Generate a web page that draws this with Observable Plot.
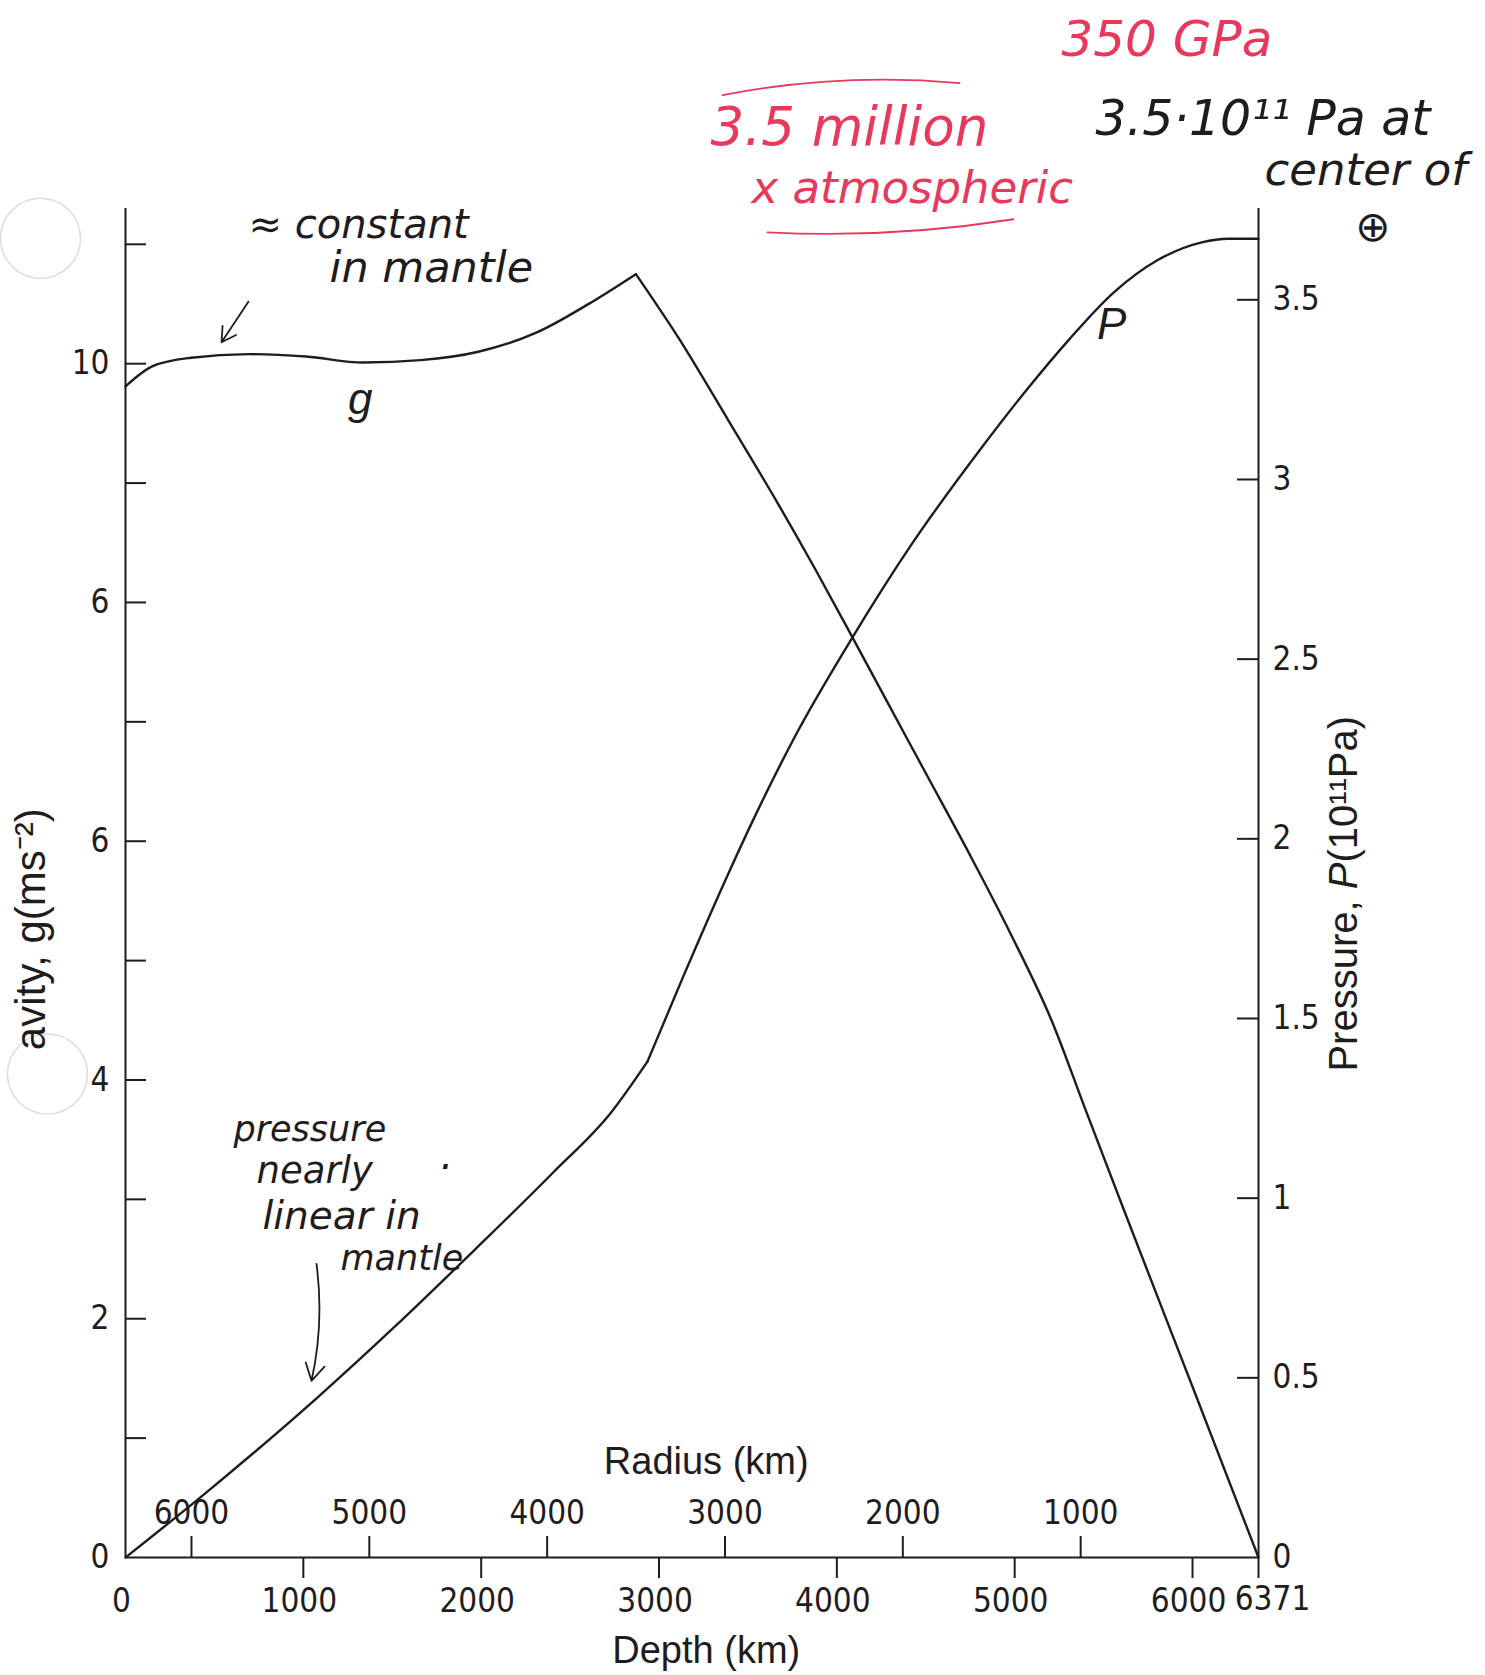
<!DOCTYPE html>
<html>
<head>
<meta charset="utf-8">
<script src="https://cdn.jsdelivr.net/npm/d3@7"></script>
<script src="https://cdn.jsdelivr.net/npm/@observablehq/plot@0.6"></script>
<style>
  html, body { margin: 0; padding: 0; background: #ffffff; }
  #chart { width: 1485px; height: 1675px; overflow: hidden; }
</style>
</head>
<body>
<div id="chart"></div>
<script>
// ---------------- data ----------------
// Gravity g (m s^-2) against depth (km): mantle branch and core branch
const gDepthMantle = [0, 153, 369, 693, 1016, 1338, 1660, 1984, 2310, 2637, 2870];
const gMantle      = [9.81, 9.98, 10.05, 10.08, 10.06, 10.01, 10.03, 10.10, 10.26, 10.53, 10.75];
const gDepthCore   = [2870, 3108, 3388, 3668, 3878, 4087, 4275, 4511, 4743, 4972, 5207, 5396, 5617, 6000, 6371];
const gCore        = [10.75, 10.22, 9.53, 8.83, 8.28, 7.71, 7.19, 6.54, 5.90, 5.24, 4.50, 3.76, 2.90, 1.43, 0];

// Pressure P (10^11 Pa) against depth (km)
const pDepthMantle = [0, 440, 1079, 1520, 1961, 2402, 2733, 2935];
const pMantle      = [0, 0.175, 0.445, 0.645, 0.855, 1.07, 1.24, 1.38];
const pDepthCore   = [2935, 3139, 3396, 3527, 3781, 4087, 4421, 4801, 5052, 5307, 5556, 5802, 6052, 6200, 6371];
const pCore        = [1.38, 1.62, 1.91, 2.05, 2.30, 2.56, 2.82, 3.08, 3.24, 3.39, 3.52, 3.61, 3.66, 3.67, 3.67];

// Axes
const earthRadius   = 6371;
const gAxisTop      = 11.3;
const gTicks        = [1, 2, 3, 4, 5, 6, 7, 8, 9, 10, 11];
const gLabelValues  = [0, 2, 4, 6, 8, 10];
const gTickLabels   = ["0", "2", "4", "6", "6", "10"];
const pTicks        = [0.5, 1, 1.5, 2, 2.5, 3, 3.5];
const pLabelValues  = [0, 0.5, 1, 1.5, 2, 2.5, 3, 3.5];
const pTickLabels   = ["0", "0.5", "1", "1.5", "2", "2.5", "3", "3.5"];
const depthTicks    = [1000, 2000, 3000, 4000, 5000, 6000, 6371];
const depthLabels   = [0, 1000, 2000, 3000, 4000, 5000, 6000];
const depthEndLabel = [6371];
const radiusTicks   = [6000, 5000, 4000, 3000, 2000, 1000];
const pPerG         = 3.01; // one unit of pressure (10^11 Pa) spans 3.01 units of the g axis

// Curve labels: text, depth km, value on its own axis, which axis
const curveLabels = [
  {text: "g", depth: 1320, value: 9.70, axis: "g"},
  {text: "P", depth: 5545, value: 3.43, axis: "p"}
];

// Hand-written notes: text, depth-axis position of left edge, g-axis position, colour group, size
const notes = [
  {text: "350 GPa",          x: 5263, y: 12.71, red: true,  size: 50},
  {text: "3.5 million",      x: 3290, y: 11.97, red: true,  size: 53},
  {text: "x atmospheric",    x: 3520, y: 11.47, red: true,  size: 45},
  {text: "3.5·10¹¹ Pa at",   x: 5454, y: 12.05, red: false, size: 49},
  {text: "center of",        x: 6405, y: 11.62, red: false, size: 45},
  {text: "⊕",                x: 6915, y: 11.14, red: false, size: 42},
  {text: "≈ constant",       x: 692,  y: 11.16, red: false, size: 40},
  {text: "in mantle",        x: 1147, y: 10.80, red: false, size: 43},
  {text: "pressure",         x: 607,  y: 3.58,  red: false, size: 35},
  {text: "nearly",           x: 737,  y: 3.24,  red: false, size: 37},
  {text: ".",                x: 1771, y: 3.36,  red: false, size: 40},
  {text: "linear in",        x: 770,  y: 2.86,  red: false, size: 39},
  {text: "mantle",           x: 1209, y: 2.50,  red: false, size: 35}
];
const arrowConstant = [{x1: 692,  y1: 10.52, x2: 540,  y2: 10.18}];
const arrowPressure = [{x1: 1074, y1: 2.46,  x2: 1046, y2: 1.48}];
const redOverline   = [{x1: 3357, y1: 12.25, x2: 4690, y2: 12.35}];
const redUnderline  = [{x1: 3610, y1: 11.10, x2: 4993, y2: 11.21}];
const punchHoles    = [{x: -478, y: 11.05}, {x: -439, y: 4.05}];

// ---------------- layout ----------------
const W = 1485, H = 1675;
const ML = 125, MR = 227, MT = 208, MB = 118;
const pxPerKm = (W - ML - MR) / earthRadius;
const pxPerG  = (H - MT - MB) / gAxisTop;
const tickPx  = 21;
const tickKm  = tickPx / pxPerKm;
const tickG   = tickPx / pxPerG;

const INK = "#1f1c1d";
const RED = "#e8385c";
const TICK_FONT  = '"Liberation Sans Narrow", "Arial Narrow", "DejaVu Sans Condensed", "Liberation Sans", Arial, sans-serif';
const TITLE_FONT = '"Liberation Sans", Arial, Helvetica, sans-serif';
const HAND_FONT  = '"DejaVu Sans", "Noto Sans", sans-serif';

const gRows = [
  ...gDepthMantle.map((d, i) => ({depth: d, v: gMantle[i], seg: "mantle"})),
  ...gDepthCore.map((d, i) => ({depth: d, v: gCore[i], seg: "core"}))
];
const pRows = [
  ...pDepthMantle.map((d, i) => ({depth: d, v: pMantle[i], seg: "mantle"})),
  ...pDepthCore.map((d, i) => ({depth: d, v: pCore[i], seg: "core"}))
];

const tickText = {fontSize: 33, fontFamily: TICK_FONT, fill: INK};
const handText = {fontFamily: HAND_FONT, fontStyle: "italic", fontWeight: 200};

const chart = Plot.plot({
  width: W,
  height: H,
  marginLeft: ML, marginRight: MR, marginTop: MT, marginBottom: MB,
  x: {domain: [0, earthRadius], axis: null},
  y: {domain: [0, gAxisTop], axis: null},
  style: {background: "white", color: INK, overflow: "visible"},
  marks: [
    // punched holes of the scanned page
    Plot.dot(punchHoles, {x: "x", y: "y", r: 40, fill: "white", stroke: "#dcdcdc", strokeWidth: 1.5}),
    // axis lines
    Plot.ruleX([0, earthRadius], {x: d => d, y1: 0, y2: gAxisTop, stroke: INK, strokeWidth: 2}),
    Plot.ruleY([0], {x1: 0, x2: earthRadius, stroke: INK, strokeWidth: 2}),
    // left (gravity) ticks pointing inward
    Plot.ruleY(gTicks, {y: d => d, x1: 0, x2: tickKm, stroke: INK, strokeWidth: 2}),
    Plot.text(gLabelValues, {x: 0, y: d => d, text: (d, i) => gTickLabels[i], textAnchor: "end", dx: -16, ...tickText}),
    // right (pressure) ticks pointing inward
    Plot.ruleY(pTicks, {y: d => d * pPerG, x1: earthRadius - tickKm, x2: earthRadius, stroke: INK, strokeWidth: 2}),
    Plot.text(pLabelValues, {x: earthRadius, y: d => d * pPerG, text: (d, i) => pTickLabels[i], textAnchor: "start", dx: 14, ...tickText}),
    // depth ticks below, radius ticks above
    Plot.ruleX(depthTicks, {x: d => d, y1: -tickG, y2: 0, stroke: INK, strokeWidth: 2}),
    Plot.text(depthLabels, {x: d => d, y: 0, dy: 44, text: d => String(d), dx: -4, ...tickText}),
    Plot.text(depthEndLabel, {x: d => d, y: 0, dy: 42, text: d => String(d), dx: 14, ...tickText}),
    Plot.ruleX(radiusTicks, {x: r => earthRadius - r, y1: 0, y2: tickG, stroke: INK, strokeWidth: 2}),
    Plot.text(radiusTicks, {x: r => earthRadius - r, y: 0, dy: -44, text: d => String(d), ...tickText}),
    // axis titles
    Plot.text(["Radius (km)"], {x: earthRadius / 2 + 80, y: 0, dy: -96, text: d => d, fontSize: 38, fontFamily: TITLE_FONT, fill: INK}),
    Plot.text(["Depth (km)"], {x: earthRadius / 2 + 80, y: 0, dy: 93, text: d => d, fontSize: 38, fontFamily: TITLE_FONT, fill: INK}),
    Plot.text(["avity, g(ms⁻²)"], {x: -94 / pxPerKm, y: 4.25, text: d => d, rotate: -90, textAnchor: "start",
      fontSize: 42, fontFamily: TITLE_FONT, fill: INK}),
    Plot.text(["Pressure, P(10¹¹Pa)"], {x: earthRadius + 86 / pxPerKm, y: 5.56, text: d => d, rotate: -90,
      fontSize: 40, fontFamily: TITLE_FONT, fill: INK}),
    // curves
    Plot.line(gRows, {x: "depth", y: "v", z: "seg", curve: "monotone-x", stroke: INK, strokeWidth: 2.4}),
    Plot.line(pRows, {x: "depth", y: d => d.v * pPerG, z: "seg", curve: "monotone-x", stroke: INK, strokeWidth: 2.4}),
    Plot.text(curveLabels, {x: "depth", y: d => d.axis === "p" ? d.value * pPerG : d.value, text: "text",
      fontSize: 44, fontStyle: "italic", fontFamily: TITLE_FONT, fill: INK}),
    // hand-written notes
    Plot.text(notes, {x: "x", y: "y", text: "text", textAnchor: "start", fontSize: d => d.size,
      fill: d => d.red ? RED : INK, ...handText}),
    Plot.arrow(arrowConstant, {x1: "x1", y1: "y1", x2: "x2", y2: "y2", headLength: 16, stroke: INK, strokeWidth: 1.8}),
    Plot.arrow(arrowPressure, {x1: "x1", y1: "y1", x2: "x2", y2: "y2", bend: 10, headLength: 16, stroke: INK, strokeWidth: 1.8}),
    Plot.arrow(redOverline, {x1: "x1", y1: "y1", x2: "x2", y2: "y2", bend: 8, headLength: 0, stroke: RED, strokeWidth: 1.8}),
    Plot.arrow(redUnderline, {x1: "x1", y1: "y1", x2: "x2", y2: "y2", bend: -6, headLength: 0, stroke: RED, strokeWidth: 1.8})
  ]
});

// italic P in the pressure axis title
d3.select(chart).selectAll("text").filter(function () { return this.textContent === "Pressure, P(10¹¹Pa)"; })
  .each(function () {
    const t = d3.select(this);
    t.text(null);
    t.append("tspan").text("Pressure, ");
    t.append("tspan").attr("font-style", "italic").text("P");
    t.append("tspan").text("(10¹¹Pa)");
  });

document.getElementById("chart").appendChild(chart);
</script>
</body>
</html>
